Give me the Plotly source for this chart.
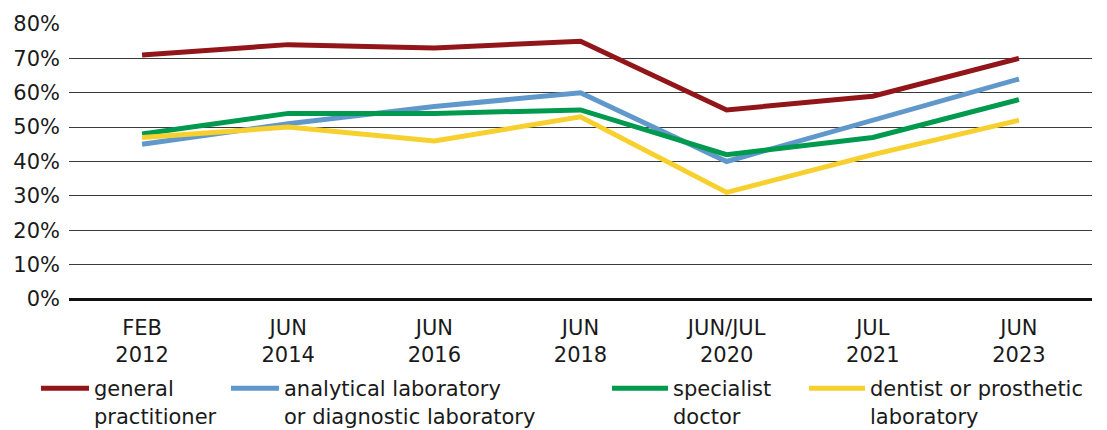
import plotly.graph_objects as go

categories = ["FEB<br>2012", "JUN<br>2014", "JUN<br>2016", "JUN<br>2018", "JUN/JUL<br>2020", "JUL<br>2021", "JUN<br>2023"]
general_practitioner = [71, 74, 73, 75, 55, 59, 70]
analytical_lab = [45, 51, 56, 60, 40, 52, 64]
specialist_doctor = [48, 54, 54, 55, 42, 47, 58]
dentist_lab = [47, 50, 46, 53, 31, 42, 52]

series = [
    ("general<br>practitioner", general_practitioner, "#921619"),
    ("analytical laboratory<br>or diagnostic laboratory", analytical_lab, "#6198CC"),
    ("specialist<br>doctor", specialist_doctor, "#009A4E"),
    ("dentist or prosthetic<br>laboratory", dentist_lab, "#F7D02E"),
]
legend_ids = ["legend", "legend2", "legend3", "legend4"]
legend_px = [42, 232, 613, 810]
legend_itemw = [48, 48, 56, 56]

FONT = "DejaVu Sans, Verdana, sans-serif"
OFF = 8  # page body offset
W, H = 1107 - OFF, 430 - OFF

fig = go.Figure()
for (name, vals, color), lid in zip(series, legend_ids):
    fig.add_trace(go.Scatter(x=categories, y=vals, name=name, mode="lines",
                             line=dict(color=color, width=5), legend=lid))

legends = {}
for lid, px, iw in zip(legend_ids, legend_px, legend_itemw):
    legends[lid] = dict(xref="container", yref="container",
                        x=(px - OFF - 6) / W, xanchor="left",
                        y=1 - 360 / H, yanchor="top",
                        font=dict(size=21, family=FONT, color="#1a1a1a"),
                        itemwidth=iw, valign="top", bgcolor="rgba(0,0,0,0)")

fig.update_layout(
    width=W, height=H,
    margin=dict(l=69 - OFF, r=15, t=24 - OFF, b=H - (299 - OFF), autoexpand=False),
    paper_bgcolor="white", plot_bgcolor="white",
    font=dict(family=FONT, size=21, color="#1a1a1a"),
    showlegend=True,
    xaxis=dict(type="category", showgrid=False, ticks="", showline=False,
               tickfont=dict(size=21), range=[-0.5, 6.5], automargin=False,
               ticklabelstandoff=14),
    yaxis=dict(range=[0, 80], dtick=10, ticksuffix="%", showgrid=True,
               gridcolor="#3a3a3a", gridwidth=1, zeroline=True, zerolinecolor="#111",
               zerolinewidth=3, showline=False, ticks="", tickfont=dict(size=21),
               automargin=False, ticklabelstandoff=8),
    **legends,
)

fig.write_html("out.html")
